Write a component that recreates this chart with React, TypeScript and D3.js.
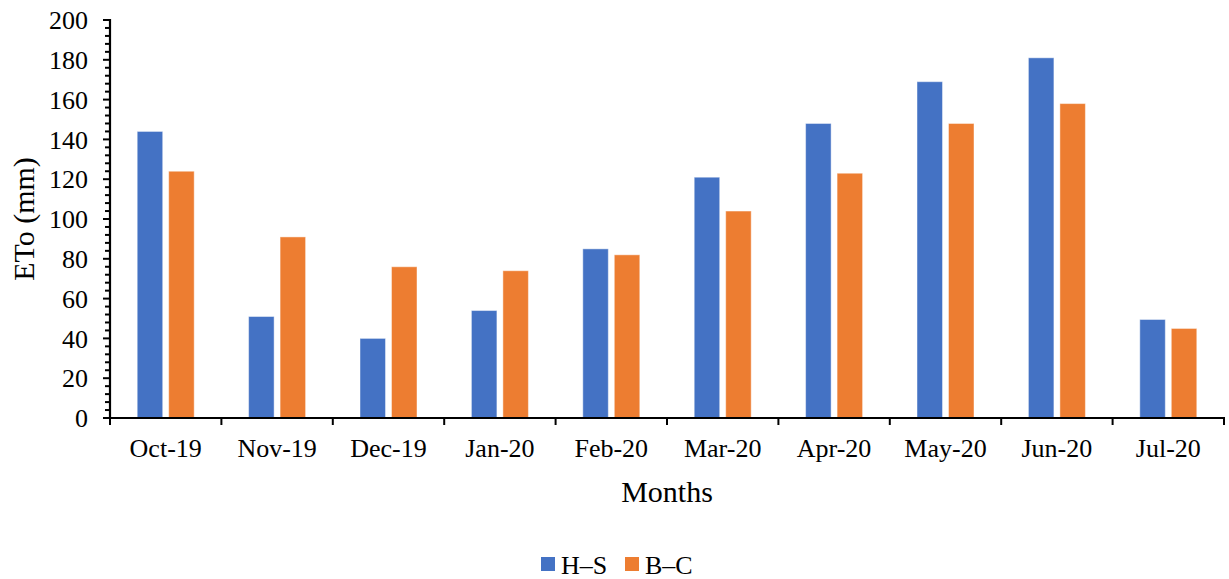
import React from "react";
import * as d3 from "d3";

const months = ["Oct-19", "Nov-19", "Dec-19", "Jan-20", "Feb-20", "Mar-20", "Apr-20", "May-20", "Jun-20", "Jul-20"];
const seriesNames = ["H\u2013S", "B\u2013C"];
const hsValues = [144, 51, 40, 54, 85, 121, 148, 169, 181, 49.5];
const bcValues = [124, 91, 76, 74, 82, 104, 123, 148, 158, 45];
const yTicks = [0, 20, 40, 60, 80, 100, 120, 140, 160, 180, 200];
const colors = ["#4472C4", "#ED7D31"];

const W = 1229;
const H = 579;
const FONT = "'Liberation Serif', 'Times New Roman', serif";

export default function App() {
  const left = 110;
  const right = 1224;
  const top = 20;
  const bottom = 418;

  const x0 = d3.scaleBand<string>().domain(months).range([left, right]).padding(0);
  const x1 = d3
    .scaleBand<string>()
    .domain(seriesNames)
    .range([0, x0.bandwidth()])
    .paddingInner(0.19)
    .paddingOuter(0.864);
  const y = d3.scaleLinear().domain([0, 200]).range([bottom, top]);

  const minorTicks = d3.range(0, 201, 4).filter((v) => v % 20 !== 0);
  const series = [hsValues, bcValues];

  return (
    <svg
      width={W}
      height={H}
      style={{ position: "absolute", left: 0, top: 0, background: "#fff" }}
      fontFamily={FONT}
    >
      <rect x={0} y={0} width={W} height={H} fill="#fff" />

      {/* bars */}
      {months.map((m, i) => (
        <g key={m} transform={`translate(${x0(m)},0)`}>
          {series.map((vals, s) => (
            <rect
              key={s}
              x={x1(seriesNames[s])}
              y={y(vals[i])}
              width={x1.bandwidth()}
              height={y(0) - y(vals[i])}
              fill={colors[s]}
              stroke="#ffffff"
              strokeOpacity={0.45}
              strokeWidth={1}
            />
          ))}
        </g>
      ))}

      {/* y axis */}
      <line x1={left} x2={left} y1={top - 1} y2={bottom + 1} stroke="#000" strokeWidth={2.2} />
      {yTicks.map((t) => (
        <g key={t}>
          <line x1={left - 7} x2={left} y1={y(t)} y2={y(t)} stroke="#000" strokeWidth={2} />
          <text
            x={88}
            y={y(t)}
            dy="0.35em"
            textAnchor="end"
            fontSize={26}
            fill="#000"
          >
            {t}
          </text>
        </g>
      ))}
      {minorTicks.map((t) => (
        <line key={t} x1={left - 5} x2={left} y1={y(t)} y2={y(t)} stroke="#000" strokeWidth={2} />
      ))}

      {/* x axis */}
      <line x1={left - 7} x2={right + 1} y1={bottom} y2={bottom} stroke="#000" strokeWidth={2.2} />
      {months.map((m) => (
        <line
          key={m}
          x1={x0(m)}
          x2={x0(m)}
          y1={bottom}
          y2={bottom + 7}
          stroke="#000"
          strokeWidth={2}
        />
      ))}
      <line x1={right} x2={right} y1={bottom} y2={bottom + 7} stroke="#000" strokeWidth={2} />
      {months.map((m) => (
        <text
          key={m}
          x={(x0(m) as number) + x0.bandwidth() / 2}
          y={457}
          textAnchor="middle"
          fontSize={26}
          fill="#000"
        >
          {m}
        </text>
      ))}

      {/* axis titles */}
      <text x={(left + right) / 2} y={502} textAnchor="middle" fontSize={30} fill="#000">
        Months
      </text>
      <text
        transform={`translate(33.5,219) rotate(-90)`}
        textAnchor="middle"
        fontSize={30}
        fill="#000"
      >
        ETo (mm)
      </text>

      {/* legend */}
      {seriesNames.map((name, s) => {
        const lx = s === 0 ? 541 : 625;
        return (
          <g key={name}>
            <rect x={lx} y={557} width={14} height={14} fill={colors[s]} />
            <text x={lx + 20} y={574} fontSize={26} fill="#000">
              {name}
            </text>
          </g>
        );
      })}
    </svg>
  );
}
